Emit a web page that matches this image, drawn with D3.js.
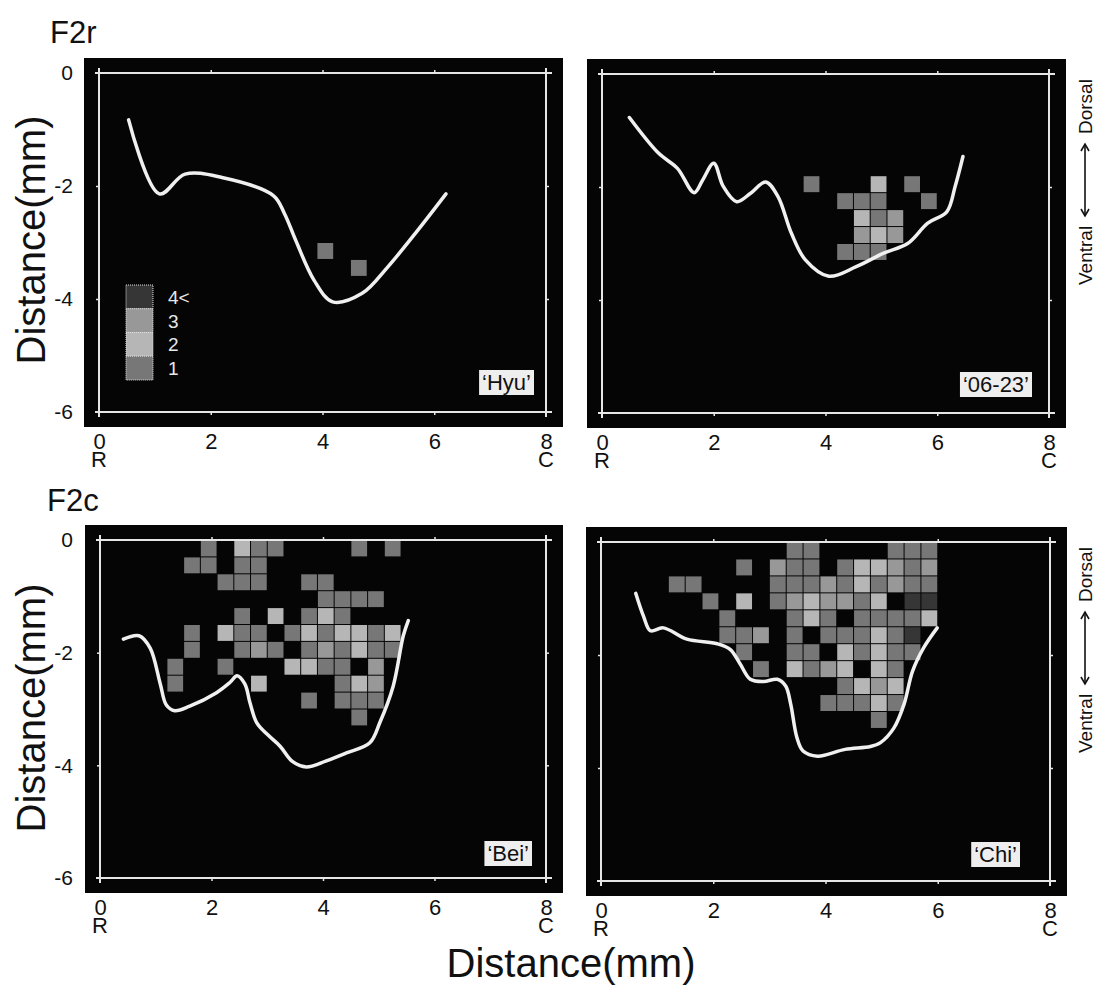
<!DOCTYPE html>
<html>
<head>
<meta charset="utf-8">
<script src="https://cdn.jsdelivr.net/npm/d3@7"></script>
<style>
body { margin: 0; background: #fff; }
text { font-family: "Liberation Sans", Arial, sans-serif; }
</style>
</head>
<body>
<div id="chart-area"></div>
<script>
// rejilla de 0.3 mm: una cadena por fila (desde y = 0 hacia abajo), columna k = x de 0.3*k
// '.' = sin dato, 1..4 = recuento (4 = "4<")
var cellSize = 0.3;
var xTicks = [0, 2, 4, 6, 8];
var yTicks = [0, -2, -4, -6];
var countValues = [4, 3, 2, 1];
var countLabels = ["4<", "3", "2", "1"];

var hyuRows = ["", "", "", "", "", "", "", "", "", "",
    ".............1",
    "...............1"];
var hyuCurveX = [0.53, 1.08, 1.54, 2.2, 3.12, 3.32, 3.52, 3.85, 4.18, 4.71, 5.17, 5.70, 6.21];
var hyuCurveY = [-0.83, -2.14, -1.79, -1.85, -2.17, -2.49, -2.96, -3.67, -4.05, -3.9, -3.43, -2.79, -2.14];

var r0623Rows = ["", "", "", "", "", "",
    "............1...2.1",
    "..............111..1",
    "...............213",
    "...............323",
    "..............111"];
var r0623CurveX = [0.49, 1.01, 1.35, 1.65, 1.80, 2.0, 2.17, 2.41, 2.66, 2.93, 3.15, 3.39, 3.64, 4.06, 4.55, 5.04, 5.47, 5.83, 6.17, 6.32, 6.46];
var r0623CurveY = [-0.77, -1.40, -1.67, -2.10, -1.88, -1.58, -1.99, -2.26, -2.11, -1.91, -2.17, -2.82, -3.29, -3.58, -3.41, -3.17, -3.0, -2.64, -2.44, -1.99, -1.46];

var beiRows = [
    "......1.211....1.1",
    ".....11.11",
    ".......111..11",
    ".............1111",
    "........1.2.121",
    ".....1.211.1212212",
    ".....1..131.131211",
    "....1..1...2211.3",
    "....1....2....123",
    "............1.111",
    "...............1"];
var beiCurveX = [0.42, 0.70, 0.90, 1.08, 1.19, 1.34, 1.61, 2.09, 2.33, 2.46, 2.60, 2.69, 2.81, 3.0, 3.23, 3.45, 3.70, 4.06, 4.42, 4.84, 5.02, 5.26, 5.44, 5.53];
var beiCurveY = [-1.76, -1.70, -1.92, -2.55, -2.93, -3.03, -2.95, -2.71, -2.53, -2.41, -2.56, -2.89, -3.24, -3.45, -3.66, -3.93, -4.03, -3.92, -3.78, -3.60, -3.24, -2.59, -1.70, -1.43];

var chiRows = [
    "...........11....111",
    "........1.311.122313",
    "....11....1113121311",
    "......1.2.1323312.44",
    ".......1...121.11112",
    ".......113.1.111214",
    "........1..11.21211",
    ".........1.2132.21",
    "..............1232",
    ".............11121",
    "................1"];
var chiCurveX = [0.62, 0.76, 0.88, 1.11, 1.53, 2.07, 2.30, 2.48, 2.66, 2.90, 3.14, 3.29, 3.38, 3.49, 3.60, 3.86, 4.35, 4.80, 4.98, 5.22, 5.40, 5.55, 5.75, 5.99];
var chiCurveY = [-0.91, -1.32, -1.57, -1.52, -1.72, -1.80, -1.90, -2.16, -2.43, -2.47, -2.43, -2.55, -2.87, -3.46, -3.70, -3.79, -3.67, -3.62, -3.55, -3.29, -2.87, -2.29, -1.87, -1.52];

var panels = [
    {name: "\u2018Hyu\u2019", rows: hyuRows, cx: hyuCurveX, cy: hyuCurveY},
    {name: "\u201806-23\u2019", rows: r0623Rows, cx: r0623CurveX, cy: r0623CurveY},
    {name: "\u2018Bei\u2019", rows: beiRows, cx: beiCurveX, cy: beiCurveY},
    {name: "\u2018Chi\u2019", rows: chiRows, cx: chiCurveX, cy: chiCurveY}
];

// posición de cada marco (px)
var layout = [
    {x0: 99, x1: 546, y0: 73, y1: 412, left: true, legend: true, boxRight: 534, boxBottom: 395},
    {x0: 602, x1: 1049, y0: 74, y1: 413, left: false, boxRight: 1032, boxBottom: 397},
    {x0: 100, x1: 546, y0: 540, y1: 878, left: true, boxRight: 532, boxBottom: 866},
    {x0: 601, x1: 1050, y0: 542, y1: 881, left: false, boxRight: 1020, boxBottom: 867}
];

var svg = d3.select("#chart-area").append("svg")
    .attr("width", 1097)
    .attr("height", 985);

var colorScale = d3.scaleOrdinal()
    .domain([1, 2, 3, 4])
    .range(["#777777", "#b6b6b6", "#989898", "#363636"]);

function drawPanel(p, L) {
    var x = d3.scaleLinear().domain([0, 8]).range([L.x0, L.x1]);
    var y = d3.scaleLinear().domain([0, -6]).range([L.y0, L.y1]);
    var g = svg.append("g");

    // fondo negro
    g.append("rect")
        .attr("x", L.x0 - 15)
        .attr("y", L.y0 - 15)
        .attr("width", L.x1 - L.x0 + 32)
        .attr("height", L.y1 - L.y0 + 30)
        .attr("fill", "#050505");

    // celdas
    var cells = [];
    p.rows.forEach(function(row, j) {
        row.split("").forEach(function(ch, k) {
            if (ch !== ".") cells.push({k: k, j: j, v: +ch});
        });
    });
    g.selectAll("rect.cell")
        .data(cells)
        .enter()
        .append("rect")
        .attr("class", "cell")
        .attr("x", d => x(d.k * cellSize) + 0.5)
        .attr("y", d => y(-d.j * cellSize) + 0.5)
        .attr("width", x(cellSize) - x(0) - 1)
        .attr("height", y(-cellSize) - y(0) - 1)
        .attr("fill", d => colorScale(d.v));

    // contorno
    var line = d3.line()
        .x(d => x(d[0]))
        .y(d => y(d[1]))
        .curve(d3.curveCatmullRom.alpha(0.5));
    g.append("path")
        .datum(d3.zip(p.cx, p.cy))
        .attr("d", line)
        .attr("fill", "none")
        .attr("stroke", "#f0f0f0")
        .attr("stroke-width", 3.5)
        .attr("stroke-linecap", "round");

    // marco blanco
    var frame = [
        [L.x0 - 4, L.y0, L.x1 + 6, L.y0],
        [L.x0 - 4, L.y1, L.x1 + 6, L.y1],
        [L.x0, L.y0 - 5, L.x0, L.y1 + 5],
        [L.x1, L.y0 - 5, L.x1, L.y1 + 5]
    ];
    g.selectAll("line.frame")
        .data(frame)
        .enter()
        .append("line")
        .attr("x1", d => d[0]).attr("y1", d => d[1])
        .attr("x2", d => d[2]).attr("y2", d => d[3])
        .attr("stroke", "#e6e6e6")
        .attr("stroke-width", 2);

    function whiteTicks(sel) {
        sel.select(".domain").remove();
        sel.selectAll(".tick line").attr("stroke", "#e6e6e6").attr("stroke-width", 1.5);
    }
    g.append("g").attr("transform", "translate(0," + L.y0 + ")")
        .call(d3.axisTop(x).tickValues([2, 4, 6]).tickSize(3).tickFormat(""))
        .call(whiteTicks);
    g.append("g").attr("transform", "translate(0," + L.y1 + ")")
        .call(d3.axisBottom(x).tickValues([2, 4, 6]).tickSize(3).tickFormat(""))
        .call(whiteTicks);
    g.append("g").attr("transform", "translate(" + L.x0 + ",0)")
        .call(d3.axisLeft(y).tickValues([-2, -4]).tickSize(3).tickFormat(""))
        .call(whiteTicks);
    g.append("g").attr("transform", "translate(" + L.x1 + ",0)")
        .call(d3.axisRight(y).tickValues([-2, -4]).tickSize(3).tickFormat(""))
        .call(whiteTicks);

    // etiquetas del eje X
    var xa = g.append("g").attr("transform", "translate(0," + L.y1 + ")")
        .call(d3.axisBottom(x).tickValues(xTicks).tickSize(0).tickPadding(21).tickFormat(d => String(d)));
    xa.select(".domain").remove();
    xa.attr("font-size", 22).attr("font-family", "Liberation Sans, Arial, sans-serif");
    xa.selectAll("text").attr("fill", "#111");

    g.append("text").attr("x", x(0)).attr("y", L.y1 + 55)
        .attr("text-anchor", "middle").attr("font-size", 22).attr("fill", "#111").text("R");
    g.append("text").attr("x", x(8)).attr("y", L.y1 + 55)
        .attr("text-anchor", "middle").attr("font-size", 22).attr("fill", "#111").text("C");

    // etiquetas del eje Y (solo a la izquierda)
    if (L.left) {
        var ya = g.append("g").attr("transform", "translate(" + L.x0 + ",0)")
            .call(d3.axisLeft(y).tickValues(yTicks).tickSize(0).tickPadding(L.x0 - 73).tickFormat(d => String(d)));
        ya.select(".domain").remove();
        ya.attr("font-size", 21).attr("font-family", "Liberation Sans, Arial, sans-serif");
        ya.selectAll("text").attr("fill", "#111");
    } else {
        // Ventral <-> Dorsal
        var ax = 1085, top = L.y0 + 4;
        g.append("text")
            .attr("transform", "translate(" + (ax + 7) + "," + (top + 56) + ") rotate(-90)")
            .attr("font-size", 19).attr("fill", "#111").text("Dorsal");
        g.append("text")
            .attr("transform", "translate(" + (ax + 7) + "," + (top + 207) + ") rotate(-90)")
            .attr("font-size", 19).attr("fill", "#111").text("Ventral");
        var a1 = top + 66, a2 = top + 138;
        g.append("line").attr("x1", ax).attr("y1", a1).attr("x2", ax).attr("y2", a2)
            .attr("stroke", "#111").attr("stroke-width", 1.6);
        g.append("path")
            .attr("d", "M" + (ax - 4) + "," + (a1 + 7) + "L" + ax + "," + a1 + "L" + (ax + 4) + "," + (a1 + 7) +
                "M" + (ax - 4) + "," + (a2 - 7) + "L" + ax + "," + a2 + "L" + (ax + 4) + "," + (a2 - 7))
            .attr("fill", "none").attr("stroke", "#111").attr("stroke-width", 1.6);
    }

    // nombre del cultivar
    var label = g.append("text")
        .attr("x", L.boxRight - 3)
        .attr("y", L.boxBottom - 5)
        .attr("text-anchor", "end")
        .attr("font-size", 22)
        .attr("fill", "#111")
        .text(p.name);
    var bb = label.node().getBBox();
    g.insert("rect", function() { return label.node(); })
        .attr("x", bb.x - 3)
        .attr("y", L.boxBottom - 25)
        .attr("width", bb.width + 6)
        .attr("height", 25)
        .attr("fill", "#eeeeee");

    // leyenda
    if (L.legend) {
        var lx = 126, ly = 285, lh = 23.75;
        g.selectAll("rect.key")
            .data(countValues)
            .enter()
            .append("rect")
            .attr("class", "key")
            .attr("x", lx)
            .attr("y", (d, i) => ly + i * lh)
            .attr("width", 27)
            .attr("height", lh)
            .attr("fill", d => colorScale(d))
            .attr("stroke", "#e0e0e0")
            .attr("stroke-width", 1)
            .attr("stroke-dasharray", "1,1");
        g.selectAll("text.key")
            .data(countLabels)
            .enter()
            .append("text")
            .attr("class", "key")
            .attr("x", lx + 42)
            .attr("y", (d, i) => ly + i * lh + lh / 2 + 7)
            .attr("font-size", 19)
            .attr("fill", "#e8e8e8")
            .text(d => d);
    }
}

panels.forEach(function(p, i) { drawPanel(p, layout[i]); });

// títulos
svg.append("text").attr("x", 50).attr("y", 43).attr("font-size", 31).attr("fill", "#111").text("F2r");
svg.append("text").attr("x", 47).attr("y", 511).attr("font-size", 31).attr("fill", "#111").text("F2c");

[240, 708].forEach(function(cy) {
    svg.append("text")
        .attr("transform", "translate(45," + cy + ") rotate(-90)")
        .attr("text-anchor", "middle")
        .attr("font-size", 40)
        .attr("fill", "#111")
        .text("Distance(mm)");
});

svg.append("text")
    .attr("x", 571)
    .attr("y", 977)
    .attr("text-anchor", "middle")
    .attr("font-size", 40)
    .attr("fill", "#111")
    .text("Distance(mm)");
</script>
</body>
</html>
